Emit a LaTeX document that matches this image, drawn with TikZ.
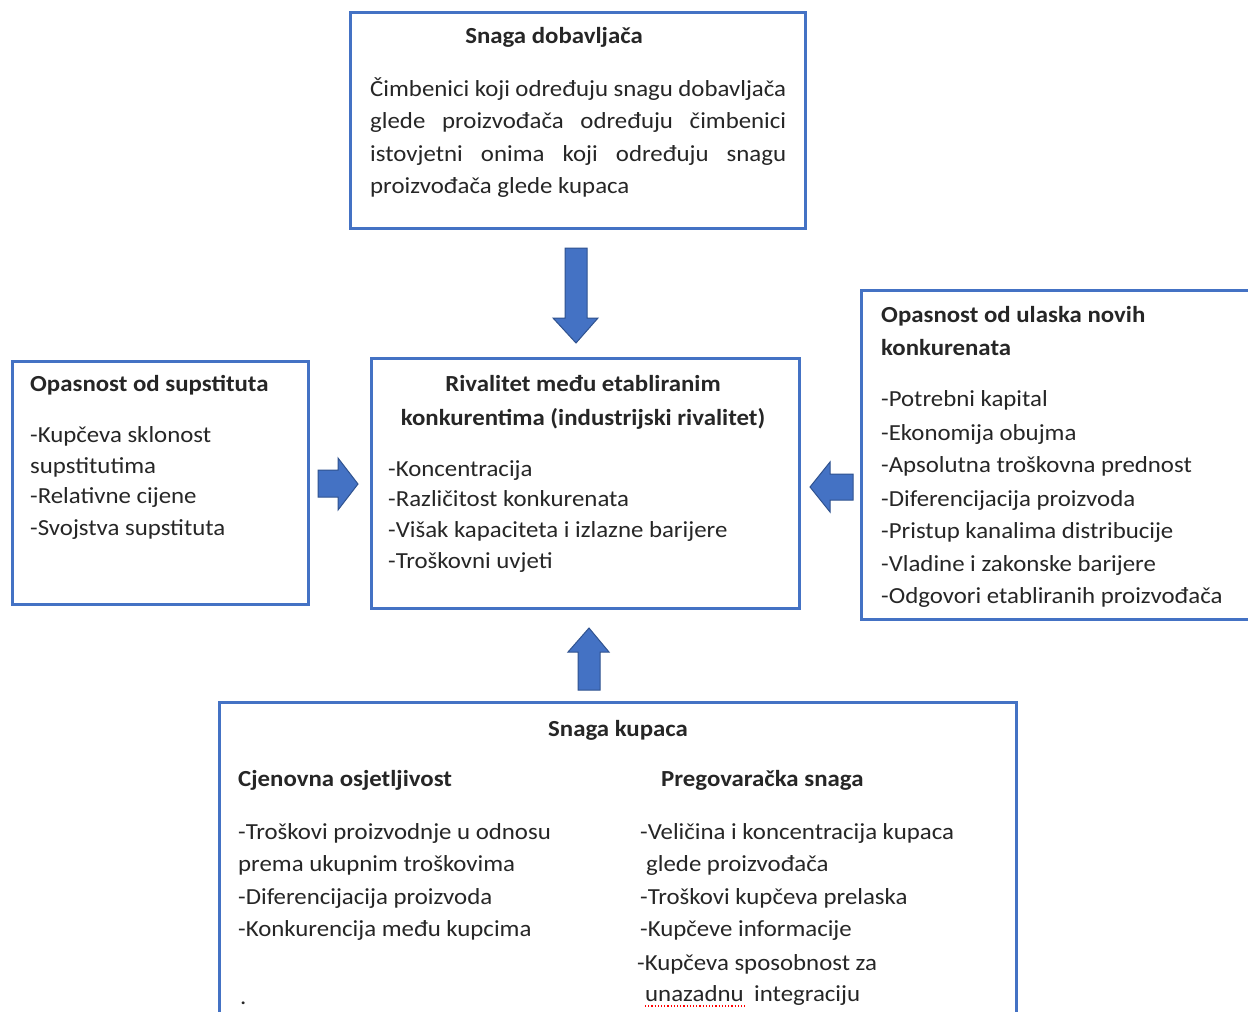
\documentclass[tikz,border=0pt]{standalone}
\usepackage{fontspec}
\setmainfont{Carlito}[FakeStretch=1.08]
\begin{document}
\begin{tikzpicture}[x=1pt,y=-1pt,
  box/.style={draw=boxblue,line width=3pt,inner sep=0pt,fill=white},
  txt/.style={anchor=base west,inner sep=0pt,font=\fontsize{23}{32}\selectfont,text=textgray},
  ttl/.style={anchor=base,inner sep=0pt,font=\fontsize{23}{32}\selectfont\bfseries,text=textgray},
  ttlw/.style={anchor=base west,inner sep=0pt,font=\fontsize{23}{32}\selectfont\bfseries,text=textgray},
  blockarrow/.style={fill=arrowblue,draw=arrowedge,line width=1pt,line join=miter}]
\definecolor{boxblue}{HTML}{4472C4}
\definecolor{arrowblue}{HTML}{4472C4}
\definecolor{arrowedge}{HTML}{2F528F}
\definecolor{textgray}{HTML}{262626}
\useasboundingbox (0,0) rectangle (1248,1012);
\clip (0,0) rectangle (1248,1012);
\fill[white] (0,0) rectangle (1248,1012);
% boxes
\node[box,minimum width=455pt,minimum height=216pt] (sup) at (577.5,120) {};
\node[box,minimum width=296pt,minimum height=243pt] (subs) at (160,482.5) {};
\node[box,minimum width=428pt,minimum height=250pt] (riv) at (585,483) {};
\node[box,minimum width=400pt,minimum height=329pt] (new) at (1061,454.5) {};
\node[box,minimum width=797pt,minimum height=330pt] (buy) at (617.5,867) {};
% block arrows
\draw[blockarrow] (565,248) -- (587,248) -- (587,318) -- (598,318) -- (576,343) -- (553,318) -- (565,318) -- cycle;
\draw[blockarrow] (318,470) -- (338,470) -- (338,458) -- (358,484) -- (338,510) -- (338,497) -- (318,497) -- cycle;
\draw[blockarrow] (853,474) -- (830,474) -- (830,462) -- (810,487) -- (830,512) -- (830,500) -- (853,500) -- cycle;
\draw[blockarrow] (578,690) -- (600,690) -- (600,652) -- (609,652) -- (589,628) -- (568,652) -- (578,652) -- cycle;
% supplier text
\node[ttl] (supt) at (554,43) {Snaga dobavljača};
\node[txt] (sup1) at (370,96) {\makebox[416pt][s]{Čimbenici koji određuju snagu dobavljača}};
\node[txt] (sup2) at (370,128) {\makebox[416pt][s]{glede proizvođača određuju čimbenici}};
\node[txt] (sup3) at (370,161) {\makebox[416pt][s]{istovjetni onima koji određuju snagu}};
\node[txt] (sup4) at (370,193) {proizvođača glede kupaca};
% substitutes
\node[ttlw] (subt) at (30,391) {Opasnost od supstituta};
\node[txt] (sub1) at (30,442) {-Kupčeva sklonost};
\node[txt] (sub2) at (30,473) {supstitutima};
\node[txt] (sub3) at (30,503) {-Relativne cijene};
\node[txt] (sub4) at (30,535) {-Svojstva supstituta};
% rivalry
\node[ttl] (rivt1) at (583,391) {Rivalitet među etabliranim};
\node[ttl] (rivt2) at (583,425) {konkurentima (industrijski rivalitet)};
\node[txt] (riv1) at (388,476) {-Koncentracija};
\node[txt] (riv2) at (388,506) {-Različitost konkurenata};
\node[txt] (riv3) at (388,537) {-Višak kapaciteta i izlazne barijere};
\node[txt] (riv4) at (388,568) {-Troškovni uvjeti};
% new entrants
\node[ttlw] (newt1) at (881,322) {Opasnost od ulaska novih};
\node[ttlw] (newt2) at (881,355) {konkurenata};
\node[txt] (new1) at (881,406) {-Potrebni kapital};
\node[txt] (new2) at (881,440) {-Ekonomija obujma};
\node[txt] (new3) at (881,472) {-Apsolutna troškovna prednost};
\node[txt] (new4) at (881,506) {-Diferencijacija proizvoda};
\node[txt] (new5) at (881,538) {-Pristup kanalima distribucije};
\node[txt] (new6) at (881,571) {-Vladine i zakonske barijere};
\node[txt] (new7) at (881,603) {-Odgovori etabliranih proizvođača};
% buyers
\node[ttl] (buyt) at (618,736) {Snaga kupaca};
\node[ttlw] (pricet) at (238,786) {Cjenovna osjetljivost};
\node[ttlw] (bargt) at (661,786) {Pregovaračka snaga};
\node[txt] (p1) at (238,839) {-Troškovi proizvodnje u odnosu};
\node[txt] (p2) at (238,871) {prema ukupnim troškovima};
\node[txt] (p3) at (238,904) {-Diferencijacija proizvoda};
\node[txt] (p4) at (238,936) {-Konkurencija među kupcima};
\node[txt] (p5) at (240,1004) {.};
\node[txt] (b1) at (640,839) {-Veličina i koncentracija kupaca};
\node[txt] (b2) at (646,871) {glede proizvođača};
\node[txt] (b3) at (640,904) {-Troškovi kupčeva prelaska};
\node[txt] (b4) at (640,936) {-Kupčeve informacije};
\node[txt] (b5) at (637,970) {-Kupčeva sposobnost za};
\node[txt] (b6) at (645,1001) {unazadnu\hspace{5pt} integraciju};
\draw[red,line width=1.2pt,dotted] (645,1006) -- (745,1006);
\end{tikzpicture}
\end{document}
